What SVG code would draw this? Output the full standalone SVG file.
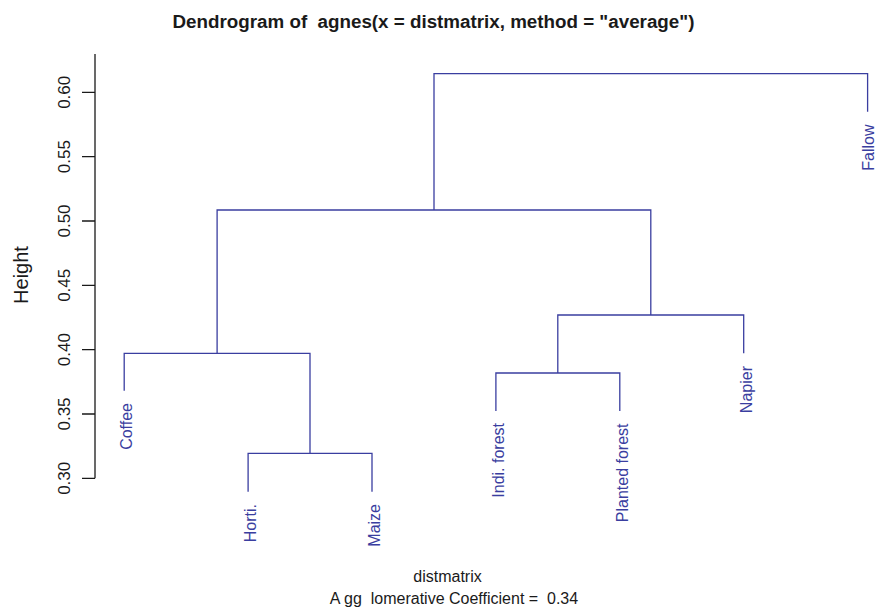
<svg xmlns="http://www.w3.org/2000/svg" width="876" height="608" viewBox="0 0 876 608">
<style>
text { font-family: "Liberation Sans", Arial, sans-serif; white-space: pre; }
.title { font-size: 18.8px; font-weight: bold; fill: #1a1a1a; text-anchor: middle; }
.tick { font-size: 17px; fill: #1a1a1a; text-anchor: middle; }
.axis { stroke: #1a1a1a; stroke-width: 1.3; fill: none; }
.lab { font-size: 16px; fill: #1a1a1a; text-anchor: middle; }
.ylab { font-size: 20px; fill: #1a1a1a; text-anchor: middle; }
.leaf { font-size: 16px; fill: #3a3ea0; text-anchor: end; }
.edge { stroke: #3a3ea0; stroke-width: 1.3; fill: none; }
</style>
<rect width="876" height="608" fill="#ffffff"/>
<text class="title" x="433.5" y="28" xml:space="preserve">Dendrogram of  agnes(x = distmatrix, method = "average")</text>
<g id="y-axis">
<path class="axis" d="M95,54 V478.3 M82,92.3 H95 M82,156.6 H95 M82,221 H95 M82,285.3 H95 M82,349.6 H95 M82,414 H95 M82,478.3 H95"/>
<text class="tick" transform="translate(70,92.3) rotate(-90)">0.60</text>
<text class="tick" transform="translate(70,156.6) rotate(-90)">0.55</text>
<text class="tick" transform="translate(70,221) rotate(-90)">0.50</text>
<text class="tick" transform="translate(70,285.3) rotate(-90)">0.45</text>
<text class="tick" transform="translate(70,349.6) rotate(-90)">0.40</text>
<text class="tick" transform="translate(70,414) rotate(-90)">0.35</text>
<text class="tick" transform="translate(70,478.3) rotate(-90)">0.30</text>
<text class="ylab" transform="translate(27.5,275) rotate(-90)">Height</text>
</g>
<g id="connectors">
<path class="edge" d="M434,210 V73.7 H867.6 V111.7"/>
<path class="edge" d="M217.1,353.3 V210 H650.8 V315"/>
<path class="edge" d="M124.2,390.7 V353.3 H310 V453.3"/>
<path class="edge" d="M248.1,491.7 V453.3 H372 V491.7"/>
<path class="edge" d="M557.8,373 V315 H743.7 V353.3"/>
<path class="edge" d="M495.9,411 V373 H619.8 V411"/>
</g>
<g id="node-coffee"><text class="leaf" transform="translate(132.2,403) rotate(-90)">Coffee</text></g>
<g id="node-horti"><text class="leaf" transform="translate(256.1,504) rotate(-90)">Horti.</text></g>
<g id="node-maize"><text class="leaf" transform="translate(380,504) rotate(-90)">Maize</text></g>
<g id="node-indi-forest"><text class="leaf" transform="translate(503.9,423) rotate(-90)">Indi. forest</text></g>
<g id="node-planted-forest"><text class="leaf" transform="translate(627.8,423.5) rotate(-90)">Planted forest</text></g>
<g id="node-napier"><text class="leaf" transform="translate(751.7,366) rotate(-90)">Napier</text></g>
<g id="node-fallow"><text class="leaf" transform="translate(873.5,124.5) rotate(-90)">Fallow</text></g>
<text class="lab" x="447.5" y="582">distmatrix</text>
<text class="lab" x="454" y="604" xml:space="preserve">A gg  lomerative Coefficient =  0.34</text>
</svg>
